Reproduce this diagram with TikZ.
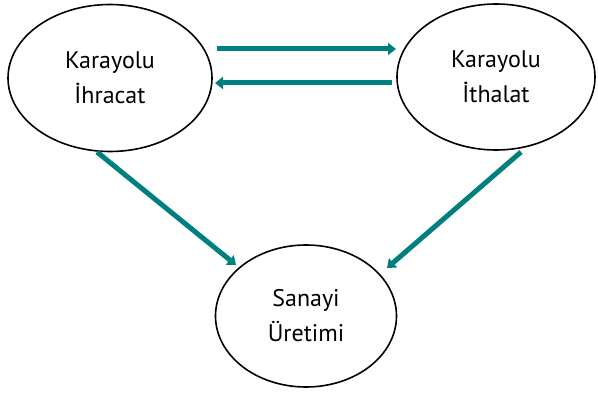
\documentclass[tikz,border=0pt]{standalone}
\usepackage{fontspec}
\setmainfont{PT Sans}
\usetikzlibrary{arrows.meta,shapes.geometric}
\definecolor{teal1}{HTML}{007F7F}
\begin{document}
\begin{tikzpicture}[x=1pt,y=-1pt,
  ell/.style={draw=black,line width=1.6pt,ellipse,inner sep=0pt,align=center,font=\fontsize{24}{35}\selectfont},
  conn/.style={draw=teal1,line width=5pt,-{Triangle[length=8pt,width=12pt]}}]
\useasboundingbox (0,0) rectangle (598,396);
\node[ell,minimum width=204pt,minimum height=147pt] (a) at (110,78) {Karayolu\\İhracat};
\node[ell,minimum width=198pt,minimum height=146pt] (b) at (496,77) {Karayolu\\İthalat};
\node[ell,minimum width=181pt,minimum height=142pt] (c) at (306,316) {Sanayi\\Üretimi};
\coordinate (a1) at (217,49);
\coordinate (b1) at (396,49);
\coordinate (b2) at (392,83);
\coordinate (a2) at (215,83);
\coordinate (a3) at (97,152);
\coordinate (c1) at (236,265);
\coordinate (b3) at (521,152);
\coordinate (c2) at (387,268);
\draw[conn] (a1) -- (b1);
\draw[conn] (b2) -- (a2);
\draw[conn] (a3) -- (c1);
\draw[conn] (b3) -- (c2);
\end{tikzpicture}
\end{document}
